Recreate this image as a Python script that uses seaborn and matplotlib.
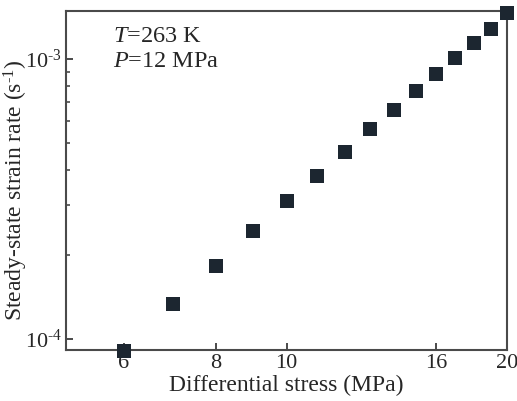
"""Steady-state strain rate vs differential stress (log-log)."""

import matplotlib
matplotlib.use("Agg")
import matplotlib.pyplot as plt
import numpy as np
import pandas as pd
import seaborn as sns
from matplotlib.ticker import FixedLocator, NullLocator, LogLocator, NullFormatter

# values
stress_mpa = [6, 7, 8, 9, 10, 11, 12, 13, 14, 15, 16, 17, 18, 19, 20]
strain_rate = [9.1e-5, 1.33e-4, 1.82e-4, 2.42e-4, 3.11e-4, 3.82e-4, 4.66e-4,
               5.62e-4, 6.58e-4, 7.69e-4, 8.83e-4, 1.01e-3, 1.14e-3, 1.28e-3, 1.45e-3]
x_ticks = [6, 8, 10, 16, 20]
x_tick_labels = ["6", "8", "10", "16", "20"]
y_ticks = [1e-4, 1e-3]
y_tick_labels = [r"10$^{\text{-}4}$", r"10$^{\text{-}3}$"]

MARKER = "#1c2630"
SPINE = "#4a4a4a"


def main() -> int:
    sns.set_theme(style="ticks")
    plt.rcParams["font.family"] = ["Liberation Serif", "DejaVu Serif"]
    plt.rcParams["mathtext.fontset"] = "custom"
    plt.rcParams["mathtext.rm"] = "Liberation Serif"
    plt.rcParams["mathtext.it"] = "Liberation Serif:italic"

    df = pd.DataFrame({"stress": stress_mpa, "rate": strain_rate})

    fig = plt.figure(figsize=(5.17, 4.01), dpi=100)
    ax = fig.add_axes([0.1277, 0.1272, 0.853, 0.8454])
    sns.scatterplot(data=df, x="stress", y="rate", marker="s", s=88,
                    color=MARKER, edgecolor=MARKER, linewidth=0, ax=ax,
                    clip_on=False, zorder=5)
    ax.set_xscale("log")
    ax.set_yscale("log")
    ax.set_xlim(5.0, 20)
    ax.set_ylim(9.14e-5, 1.48e-3)

    ax.xaxis.set_major_locator(FixedLocator(x_ticks))
    ax.set_xticklabels(x_tick_labels)
    ax.xaxis.set_minor_locator(NullLocator())
    ax.yaxis.set_major_locator(FixedLocator(y_ticks))
    ax.set_yticklabels(y_tick_labels)
    ax.yaxis.set_minor_locator(LogLocator(base=10, subs=np.arange(2, 10)))
    ax.yaxis.set_minor_formatter(NullFormatter())

    ax.tick_params(axis="both", which="major", direction="in", length=5,
                   width=1.4, color=SPINE, labelsize=16, pad=3)
    ax.tick_params(axis="y", which="minor", direction="in", length=3,
                   width=1.2, color=SPINE)
    for sp in ax.spines.values():
        sp.set_color(SPINE)
        sp.set_linewidth(1.5)
        sp.set_visible(True)

    ax.set_xlabel("Differential stress (MPa)", fontsize=17, labelpad=1.5)
    ax.set_ylabel(r"Steady-state strain rate (s$^{\text{-}1}$)", fontsize=17)
    ax.yaxis.set_label_coords(-0.082, 0.47)

    ax.text(0.107, 0.926, r"$\it{T}$=263 K", transform=ax.transAxes,
            fontsize=17.5, va="center", ha="left")
    ax.text(0.107, 0.850, r"$\it{P}$=12 MPa", transform=ax.transAxes,
            fontsize=17.5, va="center", ha="left")

    fig.savefig("out.png", dpi=100)
    plt.close(fig)
    return 0


if __name__ == "__main__":
    raise SystemExit(main())
